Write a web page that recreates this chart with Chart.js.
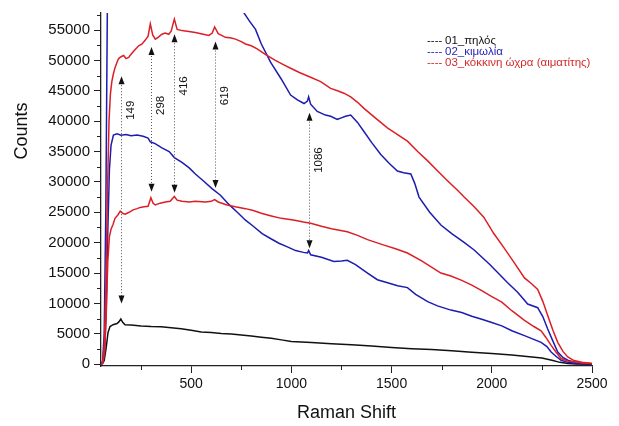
<!DOCTYPE html>
<html lang="el">
<head>
  <meta charset="UTF-8" />
  <title>Raman</title>
  <script src="https://cdn.jsdelivr.net/npm/chart.js"></script>
  <style>
    body { margin: 0; background: #fff; }
    #wrap { width: 619px; height: 426px; }
  </style>
</head>
<body>
  <div id="wrap"><canvas id="raman" width="619" height="426"></canvas></div>

  <script>
    // --- data ---
    const seriesNames = ['01_πηλός', '02_κιμωλία', '03_κόκκινη ώχρα (αιματίτης)'];

    const blackX = [50, 58, 66, 75, 85, 95, 110, 130, 140, 149, 158, 170, 200, 250, 300, 350, 400, 450, 500, 550, 600, 650, 700, 750, 800, 850, 900, 950, 1000, 1050, 1100, 1200, 1300, 1400, 1500, 1600, 1700, 1800, 1900, 2000, 2100, 2200, 2250, 2300, 2340, 2380, 2420, 2500];
    const blackY = [0, 100, 600, 2500, 5200, 6200, 6500, 6700, 7000, 7450, 6900, 6500, 6450, 6300, 6200, 6150, 6000, 5850, 5600, 5300, 5200, 5050, 4950, 4800, 4650, 4450, 4250, 4000, 3750, 3650, 3550, 3350, 3200, 3000, 2750, 2550, 2400, 2200, 1950, 1750, 1500, 1200, 1000, 650, 300, 120, 40, 0];

    const blueLowX = [50, 60, 68, 76, 84, 92, 100, 112, 130, 150, 175, 200, 230, 260, 285, 296, 320, 354, 390, 416, 454, 490, 521, 560, 604, 646, 688, 730, 771, 810, 854, 900, 938, 980, 1021, 1060, 1080, 1086, 1096, 1150, 1212, 1250, 1279, 1320, 1380, 1429, 1480, 1530, 1579, 1620, 1680, 1729, 1796, 1850, 1900, 1950, 1996, 2050, 2100, 2163, 2200, 2246, 2275, 2296, 2320, 2346, 2380, 2420, 2500];
    const blueLowY = [0, 300, 2000, 9000, 22000, 32000, 36000, 37700, 37900, 37700, 37800, 37600, 37700, 37500, 37200, 36600, 36300, 35600, 35000, 34000, 33200, 32300, 31300, 30200, 28900, 27800, 26300, 25000, 23700, 22700, 21500, 20600, 19900, 19300, 18700, 18400, 18300, 18700, 18000, 17600, 16900, 17000, 17100, 16400, 15000, 13900, 13400, 12900, 12600, 11500, 10300, 9600, 8900, 8500, 7900, 7400, 6900, 6300, 5500, 4700, 4200, 3600, 2900, 2000, 1300, 650, 300, 120, 30];

    const blueHighX = [50, 58, 66, 74, 82, 90, 100, 150, 200, 300, 400, 500, 600, 650, 700, 740, 762, 790, 821, 850, 896, 950, 996, 1030, 1063, 1080, 1086, 1096, 1129, 1170, 1196, 1229, 1246, 1270, 1296, 1330, 1362, 1400, 1446, 1490, 1529, 1560, 1596, 1615, 1637, 1690, 1746, 1800, 1860, 1912, 1990, 2079, 2130, 2179, 2229, 2255, 2279, 2305, 2329, 2355, 2379, 2420, 2500];
    const blueHighY = [0, 500, 5000, 25000, 60000, 72000, 76000, 79000, 80000, 79000, 76000, 72000, 67000, 64000, 61000, 58900, 57900, 56500, 55100, 52700, 49700, 46900, 44300, 43500, 42900, 43300, 44000, 42800, 41600, 41000, 40800, 40300, 40500, 40800, 41000, 39800, 38300, 36500, 34500, 33000, 31800, 31500, 31300, 29800, 27500, 25000, 22900, 21500, 20100, 18800, 16400, 13400, 11800, 9900, 9300, 7800, 5800, 3800, 2000, 1100, 650, 250, 50];

    const redLowX = [50, 60, 68, 76, 84, 92, 100, 110, 120, 135, 146, 160, 171, 190, 210, 230, 246, 265, 285, 299, 310, 321, 345, 371, 395, 416, 430, 454, 490, 521, 571, 600, 617, 635, 679, 720, 771, 810, 854, 900, 950, 1017, 1060, 1096, 1150, 1200, 1279, 1330, 1380, 1462, 1520, 1579, 1650, 1746, 1796, 1850, 1900, 1950, 1996, 2050, 2100, 2163, 2210, 2246, 2270, 2296, 2320, 2346, 2380, 2411, 2450, 2500];
    const redLowY = [0, 300, 2000, 8000, 17000, 21000, 22200, 23000, 24000, 24600, 25200, 24800, 24700, 25000, 25400, 25600, 25800, 25900, 26000, 27400, 26500, 26200, 26500, 26700, 26800, 27600, 27000, 26800, 26700, 26800, 26700, 26800, 27100, 26700, 26200, 25900, 25600, 25300, 24800, 24400, 24000, 23700, 23400, 23200, 22700, 22300, 21800, 21200, 20500, 19600, 19000, 18300, 17000, 15000, 14500, 13800, 13000, 12100, 11200, 10200, 8800, 7200, 6200, 5500, 4400, 3100, 2000, 930, 500, 390, 200, 100];

    const redHighX = [50, 58, 66, 74, 82, 90, 97, 104, 112, 120, 130, 138, 150, 163, 175, 188, 200, 215, 238, 255, 270, 285, 296, 308, 321, 335, 354, 370, 388, 400, 416, 430, 454, 480, 521, 560, 588, 605, 617, 635, 671, 700, 721, 750, 771, 800, 829, 870, 920, 960, 996, 1040, 1090, 1146, 1196, 1230, 1262, 1296, 1330, 1362, 1420, 1479, 1530, 1579, 1630, 1679, 1730, 1779, 1830, 1862, 1912, 1960, 2010, 2062, 2110, 2163, 2200, 2229, 2255, 2279, 2305, 2329, 2355, 2379, 2410, 2450, 2500];
    const redHighY = [0, 400, 3000, 12000, 28000, 40000, 44500, 46500, 47800, 48800, 49700, 50300, 50600, 50800, 50300, 50500, 51000, 51600, 52400, 52700, 53300, 54000, 56000, 54200, 53500, 53800, 54300, 54500, 54300, 54800, 56800, 55100, 54900, 54800, 54600, 54300, 54100, 54500, 55500, 54400, 53800, 53700, 53500, 53100, 52700, 52400, 51900, 51000, 50000, 49300, 48700, 48000, 47300, 46500, 45400, 45000, 44600, 44000, 43100, 42100, 40500, 38900, 37800, 36700, 35000, 33500, 31800, 30200, 28600, 27500, 25900, 24200, 21500, 19100, 16800, 14200, 13200, 12300, 10300, 8000, 5600, 3600, 2100, 1200, 600, 300, 100];

    const xTicks = [500, 1000, 1500, 2000, 2500];
    const xMinorTicks = [250, 750, 1250, 1750, 2250];
    const yTicks = [0, 5000, 10000, 15000, 20000, 25000, 30000, 35000, 40000, 45000, 50000, 55000];
    const yMinorTicks = [2500, 7500, 12500, 17500, 22500, 27500, 32500, 37500, 42500, 47500, 52500, 57500];

    // marked peaks: shift, arrow tip up, arrow tip down, label centre
    const peakShift = [149, 298, 416, 619, 1086];
    const peakTop = [47400, 52200, 54300, 53100, 41400];
    const peakBottom = [10000, 28400, 28200, 29000, 19100];
    const peakLabelY = [41800, 42600, 45800, 44200, 33600];

    const FONT = 'Arial, "Liberation Sans", sans-serif';
    const BLACK = '#111111';
    const BLUE = '#1c1cb0';
    const RED = '#dc1f26';

    function pts(xs, ys) {
      return xs.map((x, i) => ({ x: x, y: ys[i] }));
    }

    function line(label, xs, ys, color, order) {
      return {
        label: label,
        data: pts(xs, ys),
        borderColor: color,
        backgroundColor: color,
        borderWidth: 1.5,
        pointRadius: 0,
        tension: 0,
        order: order
      };
    }

    const extras = {
      id: 'extras',
      afterDatasetsDraw(chart) {
        const ctx = chart.ctx;
        const xs = chart.scales.x, ys = chart.scales.y;

        // peak arrows
        ctx.save();
        for (let i = 0; i < peakShift.length; i++) {
          const px = Math.round(xs.getPixelForValue(peakShift[i])) + 0.5;
          const top = ys.getPixelForValue(peakTop[i]);
          const bot = ys.getPixelForValue(peakBottom[i]);
          ctx.strokeStyle = '#555';
          ctx.lineWidth = 1;
          ctx.setLineDash([1, 2]);
          ctx.beginPath();
          ctx.moveTo(px, top + 6);
          ctx.lineTo(px, bot - 6);
          ctx.stroke();
          ctx.setLineDash([]);
          ctx.fillStyle = '#111';
          ctx.beginPath();
          ctx.moveTo(px, top);
          ctx.lineTo(px - 3, top + 8);
          ctx.lineTo(px + 3, top + 8);
          ctx.closePath();
          ctx.fill();
          ctx.beginPath();
          ctx.moveTo(px, bot);
          ctx.lineTo(px - 3, bot - 8);
          ctx.lineTo(px + 3, bot - 8);
          ctx.closePath();
          ctx.fill();

          ctx.save();
          ctx.translate(px + 9, ys.getPixelForValue(peakLabelY[i]));
          ctx.rotate(-Math.PI / 2);
          ctx.font = '11.5px ' + FONT;
          ctx.fillStyle = '#111';
          ctx.textAlign = 'center';
          ctx.textBaseline = 'middle';
          ctx.fillText(String(peakShift[i]), 0, 0);
          ctx.restore();
        }
        ctx.restore();
      },
      afterDraw(chart) {
        const ctx = chart.ctx;
        const xs = chart.scales.x, ys = chart.scales.y;
        const area = chart.chartArea;
        ctx.save();

        // minor ticks
        ctx.strokeStyle = '#222';
        ctx.lineWidth = 1;
        ctx.beginPath();
        xMinorTicks.forEach(v => {
          const p = Math.round(xs.getPixelForValue(v)) + 0.5;
          ctx.moveTo(p, area.bottom);
          ctx.lineTo(p, area.bottom + 4);
        });
        yMinorTicks.forEach(v => {
          const p = Math.round(ys.getPixelForValue(v)) + 0.5;
          if (p < area.top - 1) return;
          ctx.moveTo(area.left - 4, p);
          ctx.lineTo(area.left, p);
        });
        ctx.stroke();

        // y axis title
        ctx.save();
        ctx.translate(22, 131);
        ctx.rotate(-Math.PI / 2);
        ctx.font = '18px ' + FONT;
        ctx.fillStyle = '#111';
        ctx.textAlign = 'center';
        ctx.textBaseline = 'middle';
        ctx.fillText('Counts', 0, 0);
        ctx.restore();

        // legend
        const colors = [BLACK, '#2626b5', '#d42a2a'];
        ctx.font = '11.5px ' + FONT;
        ctx.textBaseline = 'middle';
        ctx.textAlign = 'left';
        seriesNames.forEach((name, i) => {
          const y = 41 + i * 11;
          ctx.fillStyle = colors[i];
          ctx.fillText('----', 427, y);
          ctx.fillText(name, 445, y);
        });
        ctx.restore();
      }
    };

    new Chart(document.getElementById('raman'), {
      type: 'line',
      data: {
        datasets: [
          line(seriesNames[0], blackX, blackY, BLACK, 3),
          line(seriesNames[1], blueLowX, blueLowY, BLUE, 2),
          line(seriesNames[1], blueHighX, blueHighY, BLUE, 2),
          line(seriesNames[2], redLowX, redLowY, RED, 1),
          line(seriesNames[2], redHighX, redHighY, RED, 1)
        ]
      },
      options: {
        responsive: false,
        animation: false,
        layout: { padding: { left: 0, right: 27, top: 11, bottom: 0 } },
        plugins: {
          legend: { display: false },
          tooltip: { enabled: false }
        },
        scales: {
          x: {
            type: 'linear',
            min: 50,
            max: 2500,
            afterFit: s => { s.height = 60; },
            afterBuildTicks: s => { s.ticks = xTicks.map(v => ({ value: v })); },
            grid: { drawOnChartArea: false, tickLength: 7, color: '#222', lineWidth: 1 },
            border: { color: '#222', width: 1.3 },
            ticks: { color: '#111', font: { family: FONT, size: 14 }, padding: 3, maxRotation: 0, callback: v => String(v) },
            title: {
              display: true,
              text: 'Raman Shift',
              color: '#111',
              font: { family: FONT, size: 18 },
              padding: { top: 0, bottom: 2 }
            }
          },
          y: {
            min: -300,
            max: 57800,
            afterFit: s => { s.width = 101; },
            afterBuildTicks: s => { s.ticks = yTicks.map(v => ({ value: v })); },
            grid: { drawOnChartArea: false, tickLength: 7, color: '#222', lineWidth: 1 },
            border: { color: '#222', width: 1.3 },
            ticks: { color: '#111', font: { family: FONT, size: 15 }, padding: 4, callback: v => String(v) }
          }
        }
      },
      plugins: [extras]
    });
  </script>
</body>
</html>
